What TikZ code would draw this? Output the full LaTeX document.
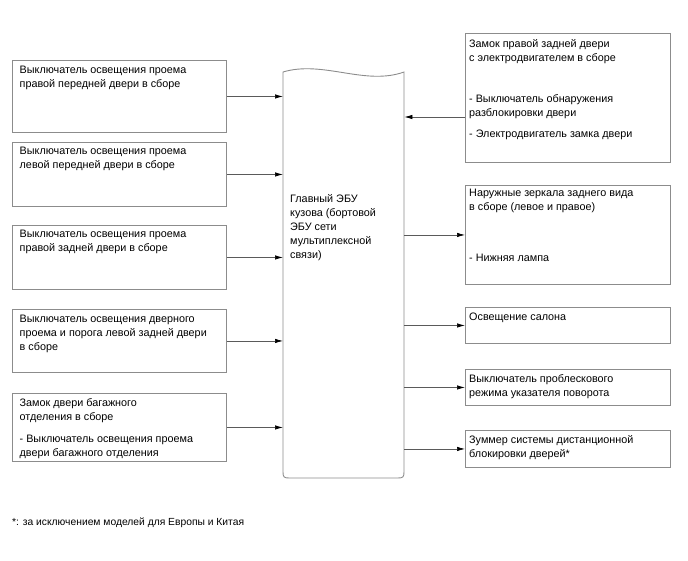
\documentclass[tikz,border=0pt]{standalone}
\usepackage{fontspec}
\setmainfont{Liberation Sans}
\usetikzlibrary{arrows.meta}
\definecolor{boxgray}{RGB}{140,140,140}
\definecolor{linegray}{RGB}{90,90,90}
\newcommand\mytab[1]{\begin{tabular}[t]{@{}l@{}}#1\end{tabular}}
\begin{document}
\begin{tikzpicture}[x=1pt,y=-1pt,
  box/.style={draw=boxgray, line width=0.9pt, rectangle, inner sep=0pt, anchor=north west},
  txt/.style={anchor=base west, inner sep=0pt, font=\fontsize{10.8}{14}\selectfont},
  arr/.style={draw=linegray, line width=0.7pt, -{Latex[length=8pt,width=4.5pt,color=black]}}]
\useasboundingbox (0,0) rectangle (688,560);
% left boxes
\node[box, minimum width=214pt, minimum height=72pt] (b1) at (12,60) {};
\node[box, minimum width=214pt, minimum height=64pt] (b2) at (12,142) {};
\node[box, minimum width=214pt, minimum height=64pt] (b3) at (12,225) {};
\node[box, minimum width=214pt, minimum height=63pt] (b4) at (12,309) {};
\node[box, minimum width=214pt, minimum height=68pt] (b5) at (12,393) {};
% right boxes
\node[box, minimum width=205pt, minimum height=129pt] (r1) at (465,33) {};
\node[box, minimum width=205pt, minimum height=99pt] (r2) at (465,185) {};
\node[box, minimum width=205pt, minimum height=36pt] (r3) at (465,307) {};
\node[box, minimum width=205pt, minimum height=36pt] (r4) at (465,369) {};
\node[box, minimum width=205pt, minimum height=37pt] (r5) at (465,430) {};
% central ECU
\node[inner sep=0pt, minimum width=121pt, minimum height=408pt, anchor=north west] (ecu) at (283,70) {};
\draw[boxgray, line width=0.9pt]
  (283,72) .. controls (323,60) and (365,86) .. (404,72)
  -- (404,472) .. controls (404,477) and (403,478) .. (398,478)
  -- (289,478) .. controls (284,478) and (283,477) .. (283,472) -- cycle;
% texts
\node[txt] (t1) at (19.5,73) {\mytab{Выключатель освещения проема\\правой передней двери в сборе}};
\node[txt] (t2) at (19.5,154) {\mytab{Выключатель освещения проема\\левой передней двери в сборе}};
\node[txt] (t3) at (19.5,237) {\mytab{Выключатель освещения проема\\правой задней двери в сборе}};
\node[txt] (t4) at (19.5,322) {\mytab{Выключатель освещения дверного\\проема и порога левой задней двери\\в сборе}};
\node[txt] (t5) at (19.5,406) {\mytab{Замок двери багажного\\отделения в сборе\\[8pt]- Выключатель освещения проема\\двери багажного отделения}};
\node[txt] (tr1) at (469,47) {\mytab{Замок правой задней двери\\с электродвигателем в сборе\\[27pt]- Выключатель обнаружения\\разблокировки двери\\[7pt]- Электродвигатель замка двери}};
\node[txt] (tr2) at (469,196) {\mytab{Наружные зеркала заднего вида\\в сборе (левое и правое)\\[37pt]- Нижняя лампа}};
\node[txt] (tr3) at (469,320) {\mytab{Освещение салона}};
\node[txt] (tr4) at (469,382) {\mytab{Выключатель проблескового\\режима указателя поворота}};
\node[txt] (tr5) at (469,443) {\mytab{Зуммер системы дистанционной\\блокировки дверей*}};
\node[txt] (tecu) at (290,202) {\mytab{Главный ЭБУ\\кузова (бортовой\\ЭБУ сети\\мультиплексной\\связи)}};
\node[txt, font=\fontsize{10.3}{13}\selectfont] (foot) at (12,525) {*: за исключением моделей для Европы и Китая};
% connectors
\draw[arr] (b1) -- (ecu.west |- b1);
\draw[arr] (b2) -- (ecu.west |- b2);
\draw[arr] (b3) -- (ecu.west |- b3);
\draw[arr] (b4) -- (ecu.west |- b4);
\draw[arr] (b5) -- (ecu.west |- b5);
\coordinate (r1p) at (465,117);
\draw[arr] (r1p) -- (ecu.east |- r1p);
\draw[arr] (ecu.east |- r2) -- (r2);
\draw[arr] (ecu.east |- r3) -- (r3);
\draw[arr] (ecu.east |- r4) -- (r4);
\draw[arr] (ecu.east |- r5) -- (r5);
\end{tikzpicture}
\end{document}
